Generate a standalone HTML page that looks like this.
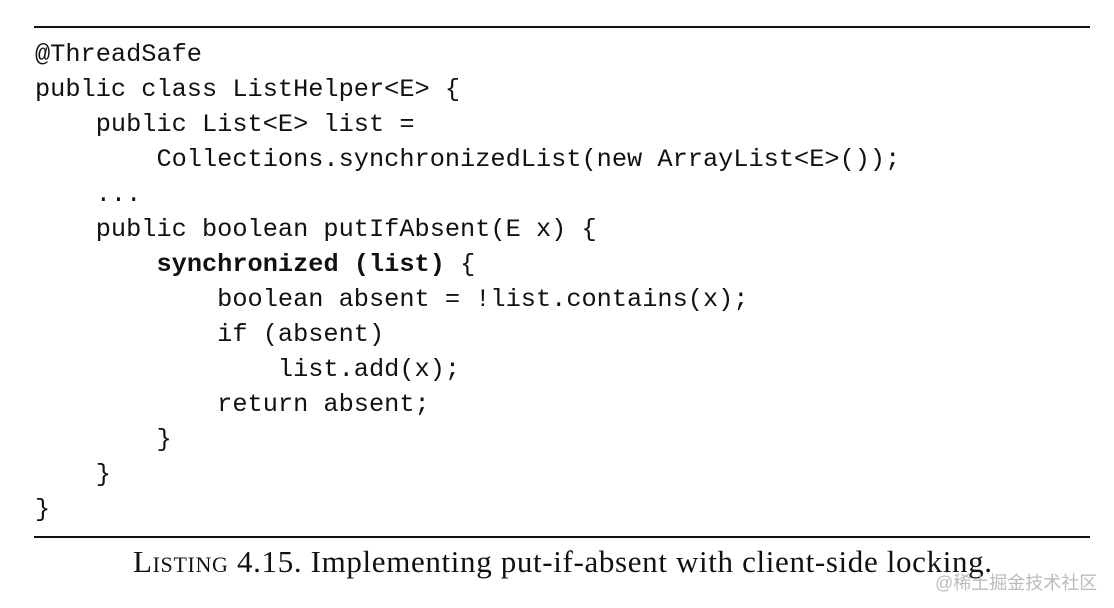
<!DOCTYPE html>
<html><head><meta charset="utf-8"><style>
body{margin:0;width:1114px;height:608px;background:#fff;position:relative;overflow:hidden}
.r{position:absolute;left:34px;width:1056px;height:2px;background:#111}
pre{position:absolute;left:35px;top:37px;margin:0;font-family:"Liberation Mono",monospace;font-size:25.3px;line-height:35px;color:#111}
b{font-weight:bold}
.cap{position:absolute;left:133px;top:543px;font-family:"Liberation Serif",serif;font-size:31px;line-height:38px;color:#111;white-space:nowrap;letter-spacing:0.65px}
.sc{font-variant:small-caps}
.wm{position:absolute;left:935px;top:569px;font-family:"Liberation Sans","Noto Sans CJK SC",sans-serif;font-size:18px;color:#bbb;white-space:nowrap}
</style></head><body>
<div class="r" style="top:26px"></div>
<pre>@ThreadSafe
public class ListHelper&lt;E&gt; {
    public List&lt;E&gt; list =
        Collections.synchronizedList(new ArrayList&lt;E&gt;());
    ...
    public boolean putIfAbsent(E x) {
        <b>synchronized (list)</b> {
            boolean absent = !list.contains(x);
            if (absent)
                list.add(x);
            return absent;
        }
    }
}</pre>
<div class="r" style="top:536px"></div>
<div class="cap"><span class="sc">Listing</span> 4.15. Implementing put-if-absent with client-side locking.</div>
<div class="wm">@稀土掘金技术社区</div>
</body></html>
